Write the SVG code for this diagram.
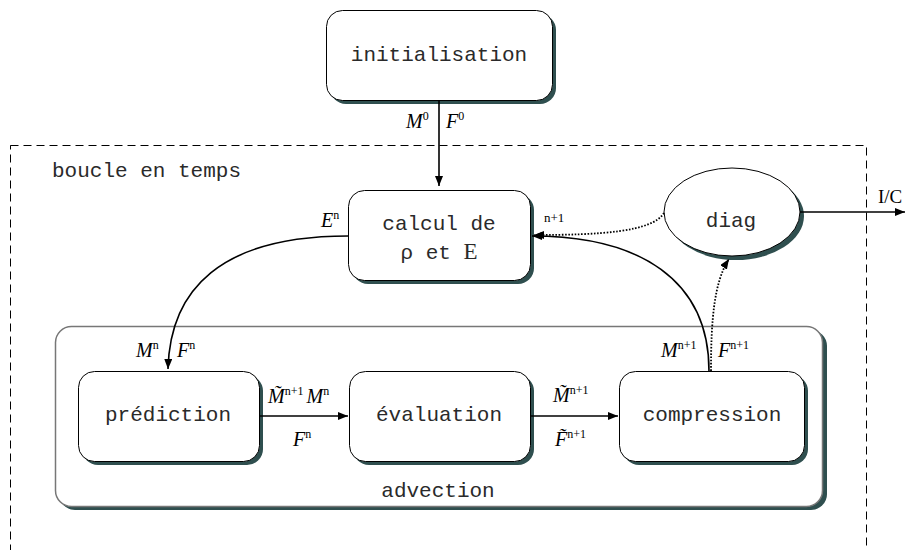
<svg xmlns="http://www.w3.org/2000/svg" width="905" height="550" viewBox="0 0 905 550">
<style>
.mono{font-family:"Liberation Mono","DejaVu Sans Mono",monospace;font-size:21px;fill:#2a2a2a}
.box{fill:#fff;stroke:#000;stroke-width:1}
.sh{fill:#2f4f4f}
.m{font-family:"Liberation Serif","Times New Roman",serif;font-style:italic;font-size:20px;fill:#000}
.sup{font-family:"Liberation Serif","Times New Roman",serif;font-style:normal;font-size:12px}
.ln{fill:none;stroke:#000;stroke-width:1.6}
.dot{fill:none;stroke:#000;stroke-width:1.8;stroke-dasharray:1.6 1.6}
</style>
<defs>
<marker id="ah" viewBox="0 0 10 8" refX="10" refY="4" markerWidth="10" markerHeight="8" markerUnits="userSpaceOnUse" orient="auto">
<path d="M0,0 L10,4 L0,8 Z" fill="#000"/>
</marker>
</defs>
<rect x="10.5" y="145.5" width="856" height="420" fill="none" stroke="#000" stroke-width="1" stroke-dasharray="8 5"/>
<text class="mono" x="52" y="177">boucle en temps</text>
<g id="advection">
<rect class="sh" x="59" y="330" width="768" height="180" rx="16"/>
<rect x="55.5" y="326.5" width="767" height="180" rx="16" fill="#fff" stroke="#777" stroke-width="1.5"/>
<text class="mono" x="438" y="497" text-anchor="middle">advection</text>
</g>
<g id="initialisation">
<rect class="sh" x="330" y="14" width="226" height="90" rx="16"/>
<rect class="box" x="326.5" y="10.5" width="226" height="90" rx="16"/>
<text class="mono" x="439" y="61" text-anchor="middle">initialisation</text>
</g>
<g id="calcul">
<rect class="sh" x="352" y="194" width="182" height="90" rx="16"/>
<rect class="box" x="348.5" y="190.5" width="182" height="90" rx="16"/>
<text class="mono" x="439" y="230" text-anchor="middle">calcul de</text>
<text class="mono" x="439" y="259" text-anchor="middle">ρ et <tspan font-family="Liberation Serif,serif" font-size="23">E</tspan></text>
</g>
<g id="diag">
<ellipse class="sh" cx="736" cy="216" rx="68" ry="44"/>
<ellipse class="box" cx="732" cy="212" rx="68" ry="44"/>
<text class="mono" x="731" y="227" text-anchor="middle">diag</text>
</g>
<g id="prediction">
<rect class="sh" x="82" y="375" width="181" height="90" rx="16"/>
<rect class="box" x="78.5" y="371.5" width="181" height="90" rx="16"/>
<text class="mono" x="168" y="421" text-anchor="middle">prédiction</text>
</g>
<g id="evaluation">
<rect class="sh" x="353" y="375" width="181" height="90" rx="16"/>
<rect class="box" x="349.5" y="371.5" width="181" height="90" rx="16"/>
<text class="mono" x="439" y="421" text-anchor="middle">évaluation</text>
</g>
<g id="compression">
<rect class="sh" x="623" y="375" width="185" height="90" rx="16"/>
<rect class="box" x="619.5" y="371.5" width="185" height="90" rx="16"/>
<text class="mono" x="712" y="421" text-anchor="middle">compression</text>
</g>
<g id="connectors">
<path class="ln" d="M439,100 L439,186" marker-end="url(#ah)"/>
<path class="ln" d="M348,236 C220,236 170,290 168,369" marker-end="url(#ah)"/>
<path class="ln" d="M709,371 C709,280 640,236 532,236" marker-end="url(#ah)"/>
<path class="dot" d="M664,213 C652,232 600,235 534,235" marker-end="url(#ah)"/>
<path class="dot" d="M711,371 C711,320 714,282 729,259" marker-end="url(#ah)"/>
<path class="ln" d="M800,212 L905,212" marker-end="url(#ah)"/>
<path class="ln" d="M259,416 L348,416" marker-end="url(#ah)"/>
<path class="ln" d="M530,416 L618,416" marker-end="url(#ah)"/>
<text class="m" x="406" y="128">M<tspan class="sup" dy="-8">0</tspan></text>
<text class="m" x="446" y="128">F<tspan class="sup" dy="-8">0</tspan></text>
<text class="m" x="321" y="227">E<tspan class="sup" dy="-8">n</tspan></text>
<text x="544" y="222" style="font-family:'Liberation Serif',serif;font-size:13px">n+1</text>
<text x="878" y="203" font-family="Liberation Serif,serif" font-size="19">I/C</text>
<text class="m" x="136" y="357">M<tspan class="sup" dy="-8">n</tspan></text>
<text class="m" x="177" y="357">F<tspan class="sup" dy="-8">n</tspan></text>
<text class="m" x="661" y="357">M<tspan class="sup" dy="-8">n+1</tspan></text>
<text class="m" x="718" y="357">F<tspan class="sup" dy="-8">n+1</tspan></text>
<text class="m" x="268" y="403">M̃<tspan class="sup" dy="-8">n+1</tspan><tspan dy="8" dx="3">M</tspan><tspan class="sup" dy="-8">n</tspan></text>
<text class="m" x="293" y="446">F<tspan class="sup" dy="-8">n</tspan></text>
<text class="m" x="553" y="402">M̃<tspan class="sup" dy="-8">n+1</tspan></text>
<text class="m" x="555" y="446">F̃<tspan class="sup" dy="-8">n+1</tspan></text>
</g>
</svg>
